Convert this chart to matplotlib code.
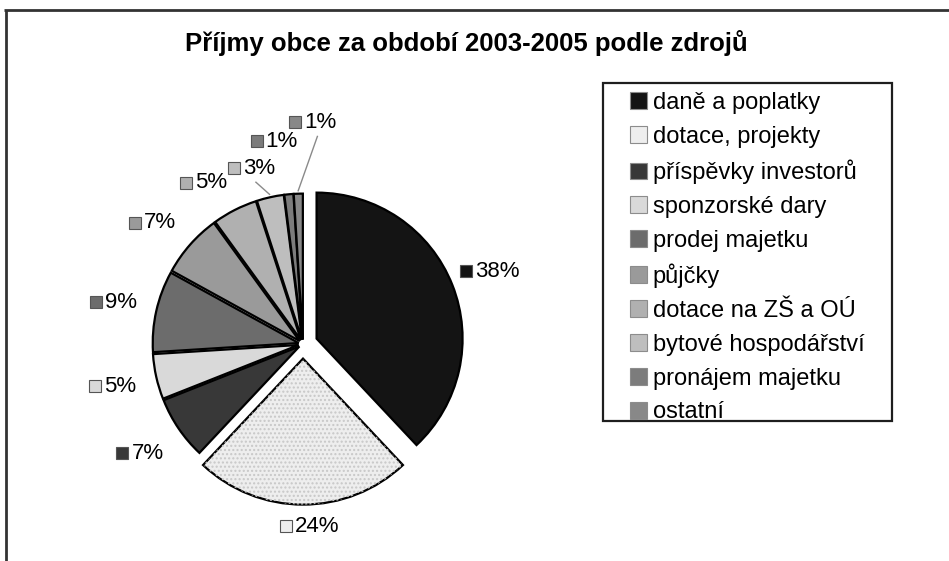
import numpy as np
import matplotlib.pyplot as plt
from matplotlib.patches import Patch, Rectangle, Wedge

plt.rcParams['font.family'] = ['Liberation Sans', 'DejaVu Sans']

title = "Příjmy obce za období 2003-2005 podle zdrojů"
categories = ["daně a poplatky", "dotace, projekty", "příspěvky investorů",
              "sponzorské dary", "prodej majetku", "půjčky", "dotace na ZŠ a OÚ",
              "bytové hospodářství", "pronájem majetku", "ostatní"]
shares = [38, 24, 7, 5, 9, 7, 5, 3, 1, 1]

colors = ['#141414', '#eeeeee', '#383838', '#d9d9d9', '#6c6c6c',
          '#9a9a9a', '#b0b0b0', '#bebebe', '#7c7c7c', '#888888']
explode = [0.10, 0.10, 0.03, 0.03, 0.03, 0.03, 0.03, 0.03, 0.03, 0.03]
label_dist = [1.35, 1.25, 1.33, 1.32, 1.31, 1.31, 1.29, 1.25, 1.40, 1.52]
label_shift = [0, 1, 0, 0, 0, 2, 4, 3, 2, -5]   # degrees, to untangle the small slices
leader = [False] * 7 + [True, False, True]

W, H = 949, 561
fig = plt.figure(figsize=(W / 100, H / 100), dpi=100)
ax = fig.add_axes([0, 0, 1, 1])

cx, cy, R = 303, 217, 146
# pie() takes the explode offset in data units, so scale it by the radius
wedges, _ = ax.pie(shares, colors=colors, explode=[e * R for e in explode],
                   startangle=90, counterclock=False, center=(cx, cy), radius=R,
                   wedgeprops=dict(edgecolor='black', linewidth=1.6))
ax.set_xlim(0, W)
ax.set_ylim(0, H)
ax.axis('off')

# fine dot texture on the light slice
w = wedges[1]
ax.add_patch(Wedge(w.center, w.r, w.theta1, w.theta2, fill=False,
                   hatch='....', edgecolor='#c8c8c8', linewidth=0))

for i, w in enumerate(wedges):
    mid = np.deg2rad((w.theta1 + w.theta2) / 2)
    ang = mid + np.deg2rad(label_shift[i])
    lx = cx + label_dist[i] * R * np.cos(ang)
    ly = cy + label_dist[i] * R * np.sin(ang)
    ax.plot(lx - 20, ly, marker='s', markersize=8.5, markerfacecolor=colors[i],
            markeredgecolor='#555555', markeredgewidth=0.8)
    ax.text(lx - 11, ly, f"{shares[i]}%", fontsize=16, ha='left', va='center')
    if leader[i]:
        ex = w.center[0] + R * 1.02 * np.cos(mid)
        ey = w.center[1] + R * 1.02 * np.sin(mid)
        ax.plot([lx + 2, ex], [ly - 14, ey], color='#8a8a8a', linewidth=1)

ax.text(466, H - 43, title, fontsize=18.5, fontweight='bold', ha='center', va='center')

handles = [Patch(facecolor=c, edgecolor='#8c8c8c', linewidth=0.8) for c in colors]
ax.legend(handles, categories, loc='upper left', bbox_to_anchor=(630 / W, 1 - 92 / H),
          frameon=False, fontsize=17, borderpad=0, borderaxespad=0,
          handlelength=0.72, handleheight=0.72, handletextpad=0.25, labelspacing=0.5)
ax.add_patch(Rectangle((603, H - 421), 289, 338, fill=False, edgecolor='#1e1e1e',
                       linewidth=1.6))

# outer frame of the scanned chart area
ax.plot([4, W], [H - 10, H - 10], color='#333333', linewidth=2, solid_capstyle='butt')
ax.plot([6, 6], [H - 10, 0], color='#333333', linewidth=2, solid_capstyle='butt')

fig.savefig('out.png', dpi=100)
